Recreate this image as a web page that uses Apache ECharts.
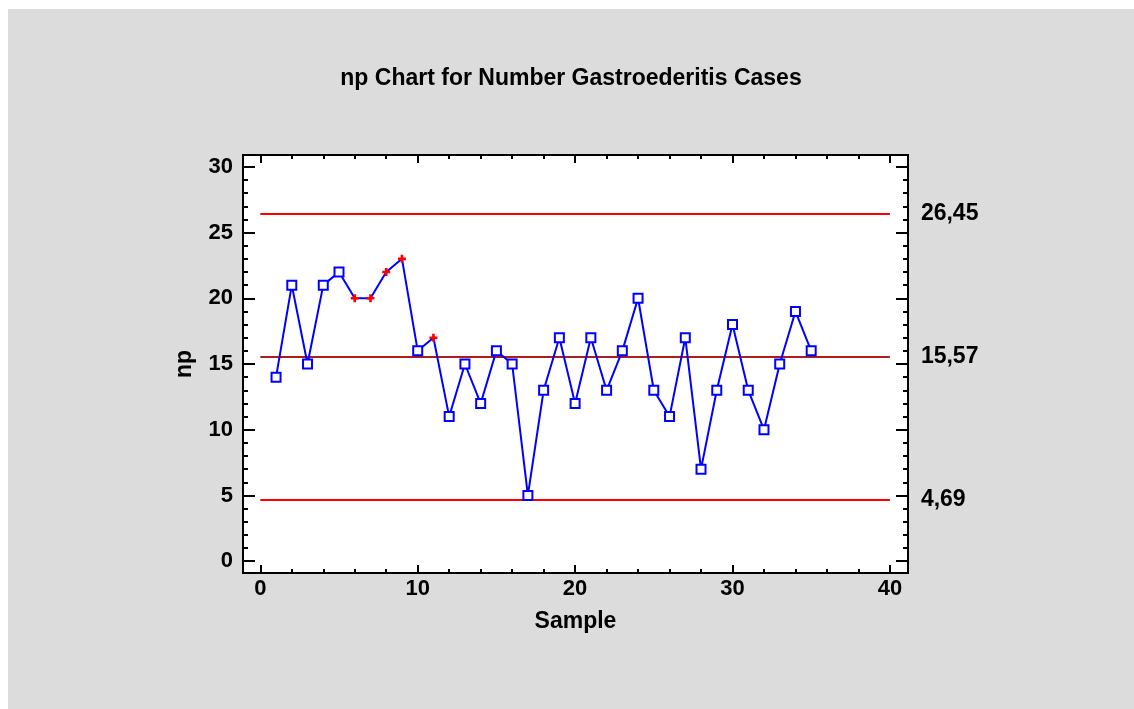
<!DOCTYPE html>
<html>
<head>
<meta charset="utf-8">
<script src="https://cdn.jsdelivr.net/npm/echarts@6/dist/echarts.min.js"></script>
<style>
  html, body { margin: 0; padding: 0; background: #ffffff; }
  #chart { position: absolute; left: 8px; top: 9px; width: 1126px; height: 700px; }
</style>
</head>
<body>
<div id="chart"></div>
<script>
// Number of gastroenteritis cases per sample
const samples = [1,2,3,4,5,6,7,8,9,10,11,12,13,14,15,16,17,18,19,20,21,22,23,24,25,26,27,28,29,30,31,32,33,34,35];
const cases   = [14,21,15,21,22,20,20,22,23,16,17,11,15,12,16,15,5,13,17,12,17,13,16,20,13,11,17,7,13,18,13,10,15,19,16];
// Samples flagged by the run rules
const flagged = [6,7,8,9,11];

// Control limits
const ucl = 26.45;
const centerLine = 15.57;
const lcl = 4.69;

// Axis tick positions
const xMajor = [0,10,20,30,40];
const xMinor = [2,4,6,8,12,14,16,18,22,24,26,28,32,34,36,38];
const yMajor = [0,5,10,15,20,25,30];
const yMinor = [1,2,3,4,6,7,8,9,11,12,13,14,16,17,18,19,21,22,23,24,26,27,28,29];

const FONT = 'Liberation Sans, Arial, Helvetica, sans-serif';
const X_RANGE = { min: -1.1, max: 41.15 };
const Y_RANGE = { min: -0.9, max: 30.9 };
const PLOT = { left: 235, top: 146, width: 665, height: 418 };

const plusPath = 'path://M3,0h3v3h3v3h-3v3h-3v-3h-3v-3h3z';

const points = samples.map((s, i) => {
  if (flagged.includes(s)) {
    return {
      value: [s, cases[i]],
      symbol: plusPath,
      symbolSize: 8,
      itemStyle: { color: '#ff0000', borderWidth: 0 }
    };
  }
  return [s, cases[i]];
});

function fmtComma(v) { return v.toFixed(2).replace('.', ','); }

function axisDef(kind, grid, position, ticks, len, withLabel) {
  const range = kind === 'x' ? X_RANGE : Y_RANGE;
  return {
    type: 'value', gridIndex: grid, position: position,
    min: range.min, max: range.max,
    axisLine: { show: false, onZero: false },
    splitLine: { show: false },
    axisTick: { show: true, inside: true, length: len, customValues: ticks,
                lineStyle: { color: '#000', width: 2 } },
    axisLabel: withLabel ? {
      show: true, customValues: ticks, margin: kind === 'x' ? 5 : 10,
      fontFamily: FONT, fontSize: 22, fontWeight: 'bold', color: '#000'
    } : { show: false }
  };
}

const nameStyle = { fontFamily: FONT, fontSize: 23, fontWeight: 'bold', color: '#000' };

const xMain = axisDef('x', 0, 'bottom', xMajor, 8, true);
Object.assign(xMain, { name: 'Sample', nameLocation: 'middle', nameGap: 37, nameTextStyle: nameStyle });

const yMain = axisDef('y', 0, 'left', yMajor, 12, true);
Object.assign(yMain, { name: 'np', nameLocation: 'middle', nameGap: 47, nameTextStyle: nameStyle });

const limitLine = (v, color) => [
  { coord: [0, v], lineStyle: { color: color, width: 2, type: 'solid' } },
  { coord: [40, v] }
];

const chart = echarts.init(document.getElementById('chart'), null, { renderer: 'canvas' });
chart.setOption({
  animation: false,
  backgroundColor: '#dcdcdc',
  title: {
    text: 'np Chart for Number Gastroederitis Cases',
    left: 'center', top: 53,
    textStyle: { fontFamily: FONT, fontSize: 23, fontWeight: 'bold', color: '#000' }
  },
  grid: [
    // data area with major ticks
    Object.assign({ show: true, backgroundColor: '#ffffff', borderColor: '#000', borderWidth: 2 }, PLOT),
    // same area, carrying the minor ticks
    Object.assign({ show: false }, PLOT)
  ],
  xAxis: [
    xMain,
    axisDef('x', 0, 'top', xMajor, 8, false),
    axisDef('x', 1, 'bottom', xMinor, 4, false),
    axisDef('x', 1, 'top', xMinor, 4, false)
  ],
  yAxis: [
    yMain,
    axisDef('y', 0, 'right', yMajor, 12, false),
    axisDef('y', 1, 'left', yMinor, 5, false),
    axisDef('y', 1, 'right', yMinor, 5, false)
  ],
  series: [{
    type: 'line',
    xAxisIndex: 0, yAxisIndex: 0,
    data: points,
    symbol: 'emptyRect',
    symbolSize: 9,
    showAllSymbol: true,
    lineStyle: { color: '#0000ff', width: 2 },
    itemStyle: { color: '#0000ff', borderColor: '#0000ff', borderWidth: 2 },
    z: 3,
    markLine: {
      silent: true,
      symbol: ['none', 'none'],
      z: 2,
      label: {
        show: true, position: 'end', distance: 31, padding: [9, 0, 0, 0],
        formatter: (p) => fmtComma(p.data.coord ? p.data.coord[1] : p.value),
        fontFamily: FONT, fontSize: 23, fontWeight: 'bold', color: '#000'
      },
      emphasis: { disabled: true },
      data: [
        limitLine(ucl, '#ff0000'),
        limitLine(centerLine, '#b01c1c'),
        limitLine(lcl, '#ff0000')
      ]
    }
  }]
});
</script>
</body>
</html>
